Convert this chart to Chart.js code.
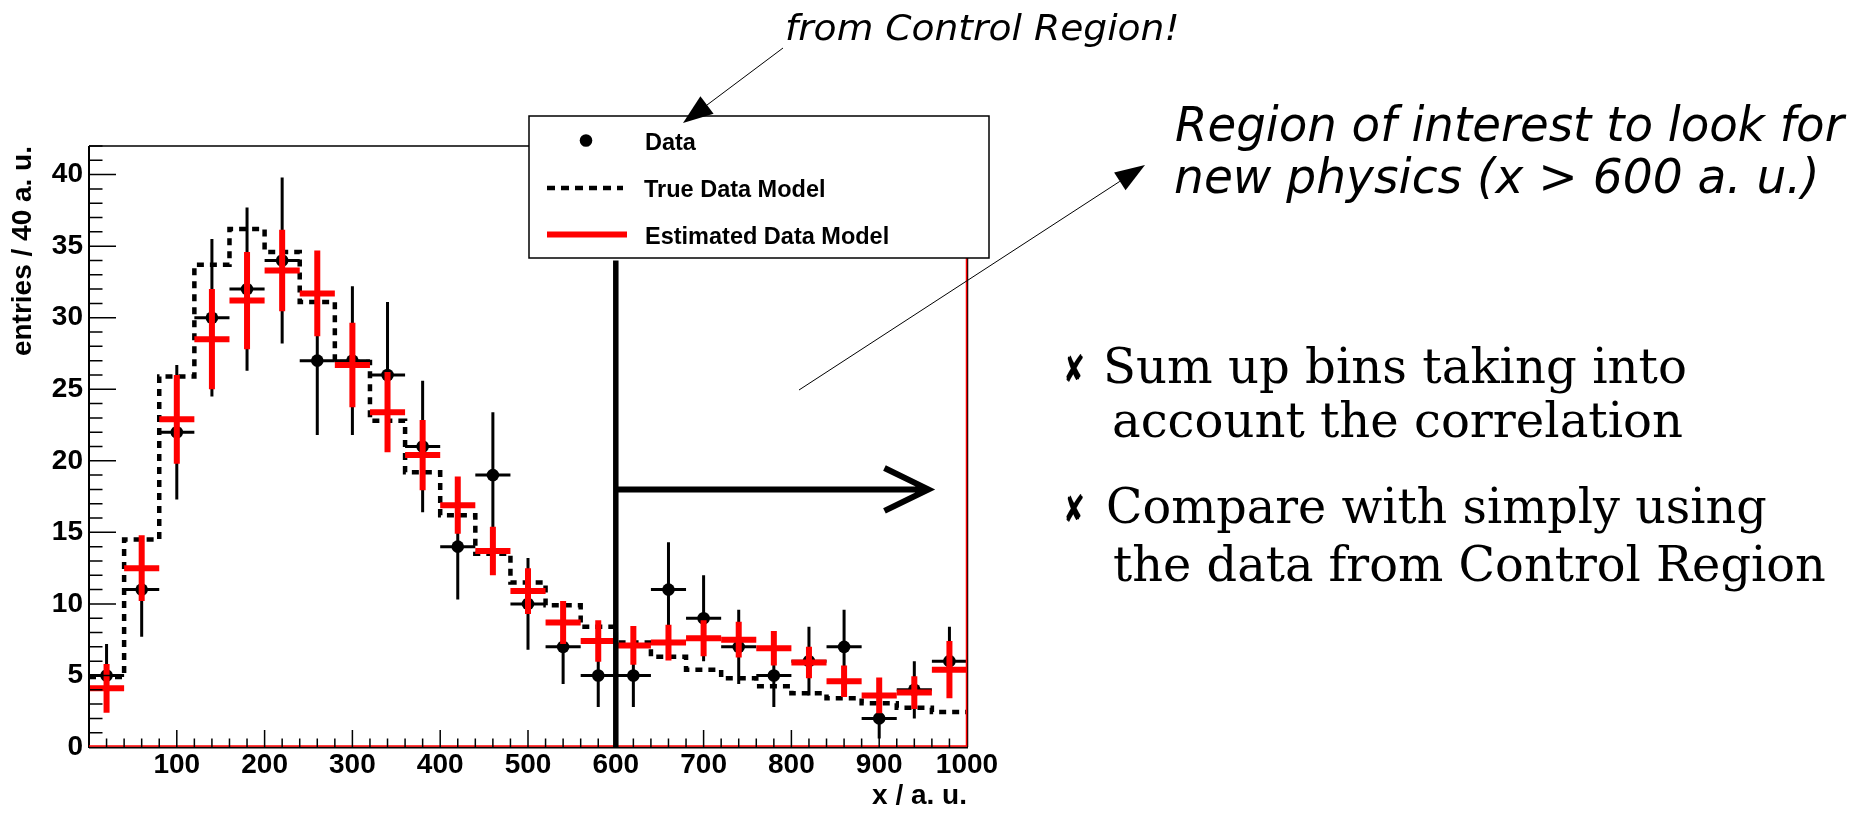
<!DOCTYPE html>
<html>
<head>
<meta charset="utf-8">
<script src="https://cdn.jsdelivr.net/npm/chart.js@4.4.1/dist/chart.umd.min.js"></script>
<style>
  html, body { margin: 0; padding: 0; background: #fff; }
  #wrap { width: 1871px; height: 814px; }
</style>
</head>
<body>
<div id="wrap"><canvas id="plot" width="1871" height="814"></canvas></div>
<script>
// bins of 40 a.u. from 0 to 1000
const binCenters = [20, 60, 100, 140, 180, 220, 260, 300, 340, 380, 420, 460, 500,
                    540, 580, 620, 660, 700, 740, 780, 820, 860, 900, 940, 980];
const BIN_HALF = 20;

// black points (Data)
const dataCounts = [5, 11, 22, 30, 32, 34, 27, 27, 26, 21, 14, 19, 10,
                    7, 5, 5, 11, 9, 7, 5, 6, 7, 2, 4, 6];
const dataErrors = [2.2, 3.3, 4.7, 5.5, 5.7, 5.8, 5.2, 5.2, 5.1, 4.6, 3.7, 4.4, 3.2,
                    2.6, 2.2, 2.2, 3.3, 3.0, 2.6, 2.2, 2.4, 2.6, 1.4, 2.0, 2.4];

// red crosses (Estimated Data Model)
const estValues = [4.1, 12.5, 22.9, 28.5, 31.2, 33.3, 31.7, 26.7, 23.4, 20.4, 16.9, 13.7, 10.9,
                   8.7, 7.4, 7.1, 7.3, 7.6, 7.5, 6.9, 5.9, 4.6, 3.6, 3.8, 5.4];
const estErrors = [1.7, 2.3, 3.1, 3.5, 3.4, 2.85, 3.0, 2.95, 2.8, 2.45, 2.0, 1.7, 1.6,
                   1.5, 1.45, 1.35, 1.25, 1.25, 1.25, 1.2, 1.1, 1.1, 1.25, 1.15, 2.0];

// dotted step histogram (True Data Model)
const trueModel = [4.9, 14.5, 25.9, 33.7, 36.2, 34.6, 31.1, 26.9, 22.8, 19.2, 16.2, 13.5, 11.5,
                   9.9, 8.4, 7.3, 6.3, 5.4, 4.8, 4.25, 3.75, 3.4, 3.05, 2.75, 2.45];

const xTickValues = [100, 200, 300, 400, 500, 600, 700, 800, 900, 1000];
const yTickValues = [0, 5, 10, 15, 20, 25, 30, 35, 40];

// cut at x = 600 and the arrow pointing right
const cutX = 600;
const cutTop = 34;
const arrowY = 18;
const arrowEndX = 956;
const arrowHeadX = 906;
const arrowHeadDy = 1.5;

const axisFont = "'Liberation Sans', Arial, sans-serif";

// text written around the plot (canvas positions)
const notes = [
    { text: 'from Control Region!', x: 787, y: 40, w: 390, font: "italic 36px 'DejaVu Sans'" },
    { text: 'Region of interest to look for', x: 1176, y: 141, w: 671, font: "italic 48px 'DejaVu Sans'" },
    { text: 'new physics (x > 600 a. u.)', x: 1175, y: 193, w: 640, font: "italic 48px 'DejaVu Sans'" },
    { text: '\u2718', x: 1066, y: 382, w: 17, font: "38px 'DejaVu Sans'" },
    { text: 'Sum up bins taking into', x: 1107, y: 383, w: 578, font: "48px 'DejaVu Serif'" },
    { text: 'account the correlation', x: 1114, y: 437, w: 568, font: "48px 'DejaVu Serif'" },
    { text: '\u2718', x: 1066, y: 522, w: 17, font: "38px 'DejaVu Sans'" },
    { text: 'Compare with simply using', x: 1108, y: 523, w: 658, font: "48px 'DejaVu Serif'" },
    { text: 'the data from Control Region', x: 1114, y: 581, w: 711, font: "48px 'DejaVu Serif'" }
];
const pointers = [
    { from: [783, 48], to: [683, 123], len: 30, half: 11 },
    { from: [799, 390], to: [1145, 165], len: 30, half: 10.5 }
];

function drawFitted(ctx, item) {
    ctx.save();
    ctx.font = item.font;
    ctx.fillStyle = '#000';
    ctx.textBaseline = 'alphabetic';
    const m = ctx.measureText(item.text);
    const ink = m.actualBoundingBoxLeft + m.actualBoundingBoxRight;
    ctx.translate(item.x, item.y);
    ctx.scale(item.w / ink, 1);
    ctx.fillText(item.text, m.actualBoundingBoxLeft, 0);
    ctx.restore();
}

function drawPointer(ctx, p) {
    const [x0, y0] = p.from;
    const [x1, y1] = p.to;
    const a = Math.atan2(y1 - y0, x1 - x0);
    const bx = x1 - p.len * Math.cos(a), by = y1 - p.len * Math.sin(a);
    ctx.save();
    ctx.strokeStyle = '#000';
    ctx.fillStyle = '#000';
    ctx.lineWidth = 1;
    ctx.beginPath();
    ctx.moveTo(x0, y0);
    ctx.lineTo(bx, by);
    ctx.stroke();
    ctx.beginPath();
    ctx.moveTo(x1, y1);
    ctx.lineTo(bx + p.half * Math.sin(a), by - p.half * Math.cos(a));
    ctx.lineTo(bx - p.half * Math.sin(a), by + p.half * Math.cos(a));
    ctx.closePath();
    ctx.fill();
    ctx.restore();
}

const histoDecor = {
    id: 'histoDecor',
    beforeDatasetDraw(chart, args) {
        if (args.index !== 1) return;
        // error bars of the data points
        const { ctx, scales: { x, y } } = chart;
        ctx.save();
        ctx.strokeStyle = '#000';
        ctx.lineWidth = 3;
        binCenters.forEach((c, i) => {
            const px = x.getPixelForValue(c);
            const py = y.getPixelForValue(dataCounts[i]);
            ctx.beginPath();
            ctx.moveTo(x.getPixelForValue(c - BIN_HALF), py);
            ctx.lineTo(x.getPixelForValue(c + BIN_HALF), py);
            ctx.moveTo(px, y.getPixelForValue(Math.max(0, dataCounts[i] - dataErrors[i])));
            ctx.lineTo(px, y.getPixelForValue(dataCounts[i] + dataErrors[i]));
            ctx.stroke();
        });
        ctx.restore();
    },
    afterDatasetDraw(chart, args) {
        if (args.index !== 0) return;
        // red crosses of the estimate
        const { ctx, scales: { x, y } } = chart;
        ctx.save();
        ctx.strokeStyle = '#ff0000';
        ctx.lineWidth = 6;
        binCenters.forEach((c, i) => {
            const px = x.getPixelForValue(c);
            const py = y.getPixelForValue(estValues[i]);
            ctx.beginPath();
            ctx.moveTo(x.getPixelForValue(c - BIN_HALF), py);
            ctx.lineTo(x.getPixelForValue(c + BIN_HALF), py);
            ctx.moveTo(px, y.getPixelForValue(estValues[i] - estErrors[i]));
            ctx.lineTo(px, y.getPixelForValue(estValues[i] + estErrors[i]));
            ctx.stroke();
        });
        ctx.restore();
    },
    afterDatasetsDraw(chart) {
        const { ctx, chartArea: { left, right, top, bottom }, scales: { x, y } } = chart;
        ctx.save();
        // frame
        ctx.strokeStyle = '#000';
        ctx.lineWidth = 1.5;
        ctx.beginPath();
        ctx.moveTo(left, top); ctx.lineTo(right, top);
        ctx.moveTo(right + 0.5, top); ctx.lineTo(right + 0.5, bottom);
        ctx.stroke();
        ctx.lineWidth = 2;
        ctx.beginPath();
        ctx.moveTo(left, top); ctx.lineTo(left, bottom + 1);
        ctx.moveTo(left, bottom + 0.5); ctx.lineTo(right + 1, bottom + 0.5);
        ctx.stroke();
        ctx.strokeStyle = '#ff0000';
        ctx.lineWidth = 1.5;
        ctx.beginPath();
        ctx.moveTo(left, bottom - 1); ctx.lineTo(right - 0.5, bottom - 1);
        ctx.lineTo(right - 0.5, top);
        ctx.stroke();
        // inward ticks
        ctx.strokeStyle = '#000';
        ctx.lineWidth = 1.5;
        ctx.beginPath();
        for (let v = 20; v < 1000; v += 20) {
            const px = x.getPixelForValue(v);
            const len = v % 100 === 0 ? 17 : 8.5;
            ctx.moveTo(px, bottom);
            ctx.lineTo(px, bottom - len);
        }
        for (let v = 1; v <= 42; v += 1) {
            const py = y.getPixelForValue(v);
            const len = v % 5 === 0 ? 27 : 13.5;
            ctx.moveTo(left, py);
            ctx.lineTo(left + len, py);
        }
        ctx.stroke();
        // cut line and arrow
        ctx.lineWidth = 5.5;
        ctx.beginPath();
        ctx.moveTo(x.getPixelForValue(cutX), y.getPixelForValue(0));
        ctx.lineTo(x.getPixelForValue(cutX), y.getPixelForValue(cutTop));
        ctx.stroke();
        ctx.lineWidth = 6;
        ctx.beginPath();
        ctx.moveTo(x.getPixelForValue(cutX), y.getPixelForValue(arrowY));
        ctx.lineTo(x.getPixelForValue(arrowEndX), y.getPixelForValue(arrowY));
        ctx.moveTo(x.getPixelForValue(arrowHeadX), y.getPixelForValue(arrowY + arrowHeadDy));
        ctx.lineTo(x.getPixelForValue(arrowEndX), y.getPixelForValue(arrowY));
        ctx.lineTo(x.getPixelForValue(arrowHeadX), y.getPixelForValue(arrowY - arrowHeadDy));
        ctx.stroke();
        ctx.restore();
    },
    afterDraw(chart) {
        const ctx = chart.ctx;
        const ds = chart.data.datasets;
        // legend box
        ctx.save();
        ctx.fillStyle = '#fff';
        ctx.fillRect(529, 116, 460, 142);
        ctx.strokeStyle = '#000';
        ctx.lineWidth = 1.5;
        ctx.strokeRect(529, 116, 460, 142);
        ctx.font = 'bold 23.5px ' + axisFont;
        ctx.fillStyle = '#000';
        ctx.textBaseline = 'alphabetic';
        ctx.beginPath();
        ctx.arc(586, 140.5, 6.3, 0, Math.PI * 2);
        ctx.fill();
        ctx.fillText(ds[1].label, 645, 149.5);
        ctx.setLineDash([8, 6]);
        ctx.lineWidth = 4.5;
        ctx.beginPath();
        ctx.moveTo(547, 188); ctx.lineTo(623, 188);
        ctx.stroke();
        ctx.fillText(ds[2].label, 644, 196.5);
        ctx.setLineDash([]);
        ctx.strokeStyle = '#ff0000';
        ctx.lineWidth = 6;
        ctx.beginPath();
        ctx.moveTo(547, 234.5); ctx.lineTo(627, 234.5);
        ctx.stroke();
        ctx.fillText(ds[0].label, 645, 244);
        ctx.restore();
        // annotations
        notes.forEach(n => drawFitted(ctx, n));
        pointers.forEach(p => drawPointer(ctx, p));
    }
};

new Chart(document.getElementById('plot'), {
    type: 'scatter',
    data: {
        datasets: [
            {
                label: 'Estimated Data Model',
                data: binCenters.map((c, i) => ({ x: c, y: estValues[i] })),
                pointRadius: 0,
                borderColor: '#ff0000',
                backgroundColor: '#ff0000',
                order: 0
            },
            {
                label: 'Data',
                data: binCenters.map((c, i) => ({ x: c, y: dataCounts[i] })),
                pointRadius: 6.3,
                pointBorderWidth: 0,
                backgroundColor: '#000',
                borderColor: '#000',
                order: 1
            },
            {
                type: 'line',
                label: 'True Data Model',
                data: binCenters.map((c, i) => ({ x: c - BIN_HALF, y: trueModel[i] }))
                    .concat([{ x: 1000, y: trueModel[trueModel.length - 1] }]),
                stepped: true,
                borderColor: '#000',
                borderWidth: 4.5,
                borderDash: [7, 6],
                pointRadius: 0,
                fill: false,
                order: 2
            }
        ]
    },
    options: {
        responsive: false,
        animation: false,
        events: [],
        layout: { padding: { top: 146, right: 904, left: 0, bottom: 0 } },
        plugins: {
            legend: { display: false },
            tooltip: { enabled: false }
        },
        scales: {
            x: {
                type: 'linear',
                min: 0,
                max: 1000,
                afterBuildTicks: s => { s.ticks = xTickValues.map(v => ({ value: v })); },
                afterFit: s => { s.height = 67; },
                grid: { display: false, drawTicks: false },
                border: { display: false },
                ticks: {
                    font: { family: axisFont, size: 28, weight: 'bold' },
                    color: '#000',
                    padding: 1,
                    maxRotation: 0,
                    autoSkip: false,
                    callback: v => String(v)
                },
                title: {
                    display: true,
                    text: 'x / a. u.',
                    align: 'end',
                    color: '#000',
                    font: { family: axisFont, size: 28, weight: 'bold' },
                    padding: { top: 0, bottom: 1 }
                }
            },
            y: {
                type: 'linear',
                min: 0,
                max: 42,
                afterBuildTicks: s => { s.ticks = yTickValues.map(v => ({ value: v })); },
                afterFit: s => { s.width = 89; },
                grid: { display: false, drawTicks: false },
                border: { display: false },
                ticks: {
                    font: { family: axisFont, size: 28, weight: 'bold' },
                    color: '#000',
                    padding: 6,
                    callback: v => String(v)
                },
                title: {
                    display: true,
                    text: 'entries / 40 a. u.',
                    align: 'end',
                    color: '#000',
                    font: { family: axisFont, size: 28, weight: 'bold' },
                    padding: { top: 6, bottom: 0 }
                }
            }
        }
    },
    plugins: [histoDecor]
});
</script>
</body>
</html>
